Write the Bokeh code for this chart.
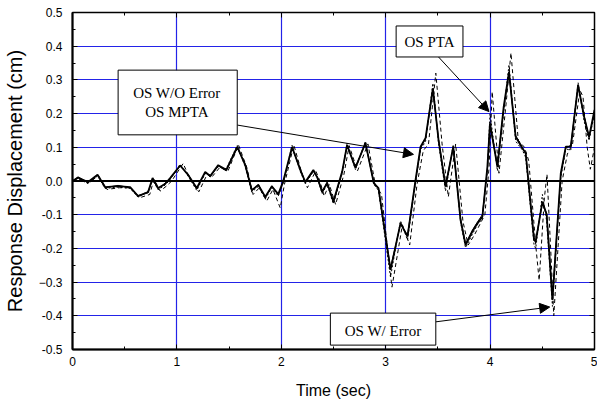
from bokeh.plotting import figure
from bokeh.models import (LinearAxis, SingleIntervalTicker, FixedTicker, Range1d, Span,
                          Label, BoxAnnotation, Arrow, NormalHead)
from bokeh.embed import file_html
from bokeh.resources import INLINE

# ---- data ----
t_ref = [0.000, 0.053, 0.149, 0.240, 0.312, 0.436, 0.552, 0.628, 0.724, 0.767,
         0.820, 0.887, 0.935, 1.031, 1.108, 1.190, 1.271, 1.319, 1.396, 1.473,
         1.578, 1.655, 1.717, 1.780, 1.847, 1.909, 1.971, 2.019, 2.103, 2.182,
         2.230, 2.307, 2.346, 2.391, 2.439, 2.499, 2.583, 2.630, 2.710, 2.806,
         2.886, 2.931, 3.046, 3.142, 3.209, 3.286, 3.334, 3.382, 3.452, 3.506,
         3.573, 3.647, 3.717, 3.765, 3.830, 3.878, 3.926, 3.974, 3.999, 4.070,
         4.130, 4.181, 4.245, 4.309, 4.341, 4.421, 4.437, 4.501, 4.542, 4.597,
         4.677, 4.725, 4.773, 4.843, 4.900, 4.948, 5.000]

os_wo_error = [0.000, 0.010, -0.003, 0.019, -0.018, -0.015, -0.018, -0.045, -0.033, 0.009,
               -0.021, -0.009, 0.009, 0.046, 0.018, -0.021, 0.027, 0.015, 0.047, 0.033,
               0.101, 0.047, -0.027, -0.012, -0.047, -0.016, -0.039, 0.000, 0.101, 0.033,
               -0.003, 0.033, 0.009, -0.032, -0.006, -0.061, 0.028, 0.107, 0.039, 0.113,
               -0.006, -0.021, -0.264, -0.125, -0.165, 0.003, 0.102, 0.128, 0.275, 0.122,
               -0.017, 0.102, -0.116, -0.190, -0.150, -0.126, -0.106, 0.042, 0.171, 0.042,
               0.220, 0.324, 0.131, 0.097, 0.083, -0.175, -0.180, -0.061, -0.100, -0.353,
               0.023, 0.102, 0.102, 0.285, 0.191, 0.131, 0.211]

os_mpta = [0.000, 0.012, -0.005, 0.017, -0.020, -0.013, -0.020, -0.043, -0.035, 0.006,
           -0.024, -0.006, 0.006, 0.044, 0.020, -0.024, 0.025, 0.012, 0.045, 0.030,
           0.098, 0.050, -0.030, -0.010, -0.050, -0.014, -0.042, -0.003, 0.098, 0.036,
           -0.006, 0.030, 0.012, -0.035, -0.003, -0.064, 0.025, 0.104, 0.042, 0.110,
           -0.003, -0.024, -0.258, -0.128, -0.160, 0.000, 0.098, 0.125, 0.270, 0.125,
           -0.012, 0.098, -0.110, -0.186, -0.146, -0.122, -0.100, 0.035, 0.165, 0.048,
           0.215, 0.318, 0.135, 0.100, 0.080, -0.168, -0.176, -0.066, -0.096, -0.346,
           0.018, 0.098, 0.106, 0.280, 0.195, 0.128, 0.205]

os_pta = [0.000, 0.008, -0.008, 0.015, -0.022, -0.018, -0.022, -0.048, -0.030, 0.004,
          -0.026, -0.012, 0.004, 0.050, 0.014, -0.028, 0.022, 0.018, 0.042, 0.036,
          0.106, 0.042, -0.033, -0.016, -0.053, -0.020, -0.045, -0.005, 0.106, 0.028,
          -0.008, 0.028, 0.012, -0.038, -0.010, -0.068, 0.022, 0.112, 0.034, 0.118,
          -0.010, -0.028, -0.285, -0.118, -0.175, -0.004, 0.092, 0.118, 0.290, 0.112,
          -0.030, 0.108, -0.122, -0.198, -0.158, -0.130, -0.112, 0.030, 0.200, 0.030,
          0.205, 0.345, 0.118, 0.092, 0.070, -0.190, -0.200, -0.040, -0.120, -0.372,
          0.010, 0.095, 0.092, 0.292, 0.178, 0.120, 0.200]

t_err = [0.00, 0.06, 0.15, 0.25, 0.33, 0.45, 0.56, 0.64, 0.74, 0.78,
         0.84, 0.90, 0.95, 1.06, 1.12, 1.21, 1.29, 1.33, 1.41, 1.49,
         1.59, 1.67, 1.73, 1.79, 1.86, 1.92, 1.99, 2.03, 2.12, 2.20,
         2.25, 2.33, 2.37, 2.41, 2.46, 2.52, 2.60, 2.65, 2.73, 2.83,
         2.90, 2.96, 3.06, 3.16, 3.23, 3.30, 3.36, 3.41, 3.48, 3.54,
         3.60, 3.67, 3.74, 3.79, 3.85, 3.90, 3.95, 3.99, 4.02, 4.085,
         4.15, 4.20, 4.27, 4.33, 4.37, 4.44, 4.47, 4.52, 4.545, 4.58,
         4.61, 4.69, 4.74, 4.79, 4.86, 4.89, 4.93, 4.96, 5.00]

os_w_error = [0.000, 0.005, -0.005, 0.015, -0.025, -0.020, -0.020, -0.050, -0.040, 0.005,
              -0.030, -0.015, 0.000, 0.052, 0.010, -0.032, 0.020, 0.010, 0.040, 0.030,
              0.107, 0.040, -0.040, -0.020, -0.060, -0.025, -0.080, -0.010, 0.107, 0.020,
              -0.020, 0.030, 0.000, -0.045, -0.010, -0.070, 0.020, 0.105, 0.030, 0.110,
              -0.010, -0.040, -0.315, -0.130, -0.190, -0.010, 0.090, 0.110, 0.320, 0.110,
              -0.047, 0.110, -0.120, -0.190, -0.160, -0.130, -0.100, 0.040, 0.265, 0.023,
              0.220, 0.380, 0.120, 0.100, 0.060, -0.200, -0.295, -0.050, 0.020, -0.200,
              -0.400, 0.000, 0.080, 0.110, 0.270, 0.250, 0.100, 0.035, 0.100]

y_ticks = [-0.5, -0.4, -0.3, -0.2, -0.1, 0.0, 0.1, 0.2, 0.3, 0.4, 0.5]
y_tick_labels = {v: f"{v:.1f}" for v in y_ticks}
grid_x = [1, 2, 3, 4]
grid_y = [-0.4, -0.3, -0.2, -0.1, 0.1, 0.2, 0.3, 0.4]

# ---- figure ----
p = figure(width=597, height=401, output_backend="svg", toolbar_location=None,
           x_range=Range1d(0, 5), y_range=Range1d(-0.5, 0.5),
           min_border_left=64, min_border_right=3, min_border_top=12, min_border_bottom=42)
p.background_fill_color = "white"
p.border_fill_color = "white"
p.outline_line_color = "black"
p.outline_line_width = 1.5

BLUE = "#2323e8"
SANS = "Liberation Sans"
SERIF = "Liberation Serif"

p.xaxis.ticker = SingleIntervalTicker(interval=1, num_minor_ticks=2)
p.yaxis.ticker = SingleIntervalTicker(interval=0.1, num_minor_ticks=2)
p.yaxis.major_label_overrides = y_tick_labels
p.xgrid.ticker = FixedTicker(ticks=grid_x)
p.ygrid.ticker = FixedTicker(ticks=grid_y)
for g in (p.xgrid, p.ygrid):
    g.grid_line_color = BLUE
    g.grid_line_width = 1.2

for ax in (p.xaxis[0], p.yaxis[0]):
    ax.axis_line_width = 2
    ax.axis_line_color = "black"
    ax.major_tick_in = 5
    ax.major_tick_out = 0
    ax.minor_tick_in = 3
    ax.minor_tick_out = 0
    ax.major_tick_line_color = "black"
    ax.minor_tick_line_color = "black"
    ax.major_label_text_font = SANS
    ax.major_label_text_font_size = "12px"
    ax.major_label_text_color = "black"
    ax.axis_label_text_font = SANS
    ax.axis_label_text_font_style = "normal"
    ax.axis_label_text_color = "black"

p.xaxis.axis_label = "Time (sec)"
p.xaxis.axis_label_text_font_size = "16px"
p.xaxis.major_label_standoff = 7
p.xaxis.axis_label_standoff = 13
p.yaxis.axis_label = "Response Displacement (cm)"
p.yaxis.axis_label_text_font_size = "20px"
p.yaxis.major_label_standoff = 10
p.yaxis.axis_label_standoff = 10

# mirrored axes (ticks only) on top and right
top = LinearAxis(ticker=SingleIntervalTicker(interval=1, num_minor_ticks=2))
right = LinearAxis(ticker=SingleIntervalTicker(interval=0.1, num_minor_ticks=2))
for ax in (top, right):
    ax.axis_line_color = None
    ax.major_tick_in = 5
    ax.major_tick_out = 0
    ax.minor_tick_in = 3
    ax.minor_tick_out = 0
    ax.major_tick_line_color = "black"
    ax.minor_tick_line_color = "black"
    ax.major_label_text_font_size = "1px"
    ax.major_label_text_color = None
    ax.major_label_standoff = 0
p.add_layout(top, "above")
p.add_layout(right, "right")

# zero reference line
p.add_layout(Span(location=0, dimension="width", line_color="black", line_width=2))

# ---- series ----
p.line(t_err, os_w_error, line_color="black", line_width=1, line_dash="4 3")
p.line(t_ref, os_pta, line_color="black", line_width=1, line_dash="2 2")
p.line(t_ref, os_mpta, line_color="black", line_width=1)
p.line(t_ref, os_wo_error, line_color="black", line_width=1.8)

# ---- annotations ----
def box(l, r, b, t):
    p.add_layout(BoxAnnotation(left=l, right=r, bottom=b, top=t, fill_color="white",
                               fill_alpha=1, line_color="black", line_width=1, line_alpha=1))

def txt(x, y, s):
    p.add_layout(Label(x=x, y=y, text=s, text_font=SERIF, text_font_size="15px",
                       text_align="center", text_baseline="middle", text_color="black"))

def arrow(x0, y0, x1, y1):
    p.add_layout(Arrow(x_start=x0, y_start=y0, x_end=x1, y_end=y1, line_width=1,
                       line_color="black",
                       end=NormalHead(size=10, fill_color="black", line_color="black")))

arrow(1.578, 0.166, 3.266, 0.079)
arrow(3.506, 0.368, 3.989, 0.206)
arrow(3.478, -0.418, 4.571, -0.374)

box(0.437, 1.578, 0.137, 0.329)
txt(1.0, 0.262, "OS W/O Error")
txt(1.0, 0.204, "OS MPTA")

box(3.10, 3.74, 0.368, 0.46)
txt(3.42, 0.413, "OS PTA")

box(2.47, 3.48, -0.487, -0.392)
txt(2.975, -0.444, "OS W/ Error")

# stray cropped tick label of a neighbouring chart at far left (screen units from frame)
p.add_layout(Label(x=-70, y=-25, x_units="screen", y_units="screen", text="0",
                   text_font=SANS, text_font_size="12px",
                   text_align="left", text_baseline="middle", text_color="black"))

open("out.html", "w").write(file_html(p, INLINE))
